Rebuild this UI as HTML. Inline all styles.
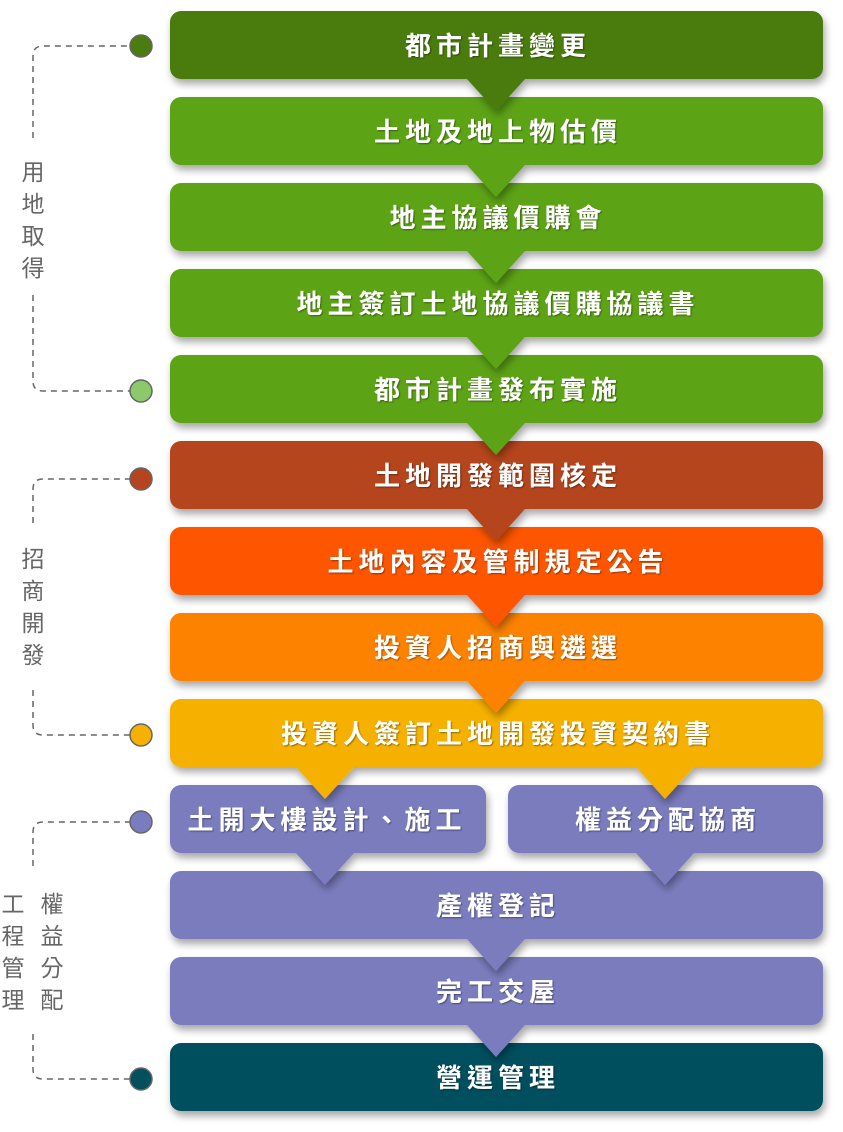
<!DOCTYPE html>
<html><head><meta charset="utf-8"><style>
html,body{margin:0;padding:0;background:#fff;}
svg{display:block;}
.t{font-family:"Liberation Sans","Noto Sans CJK TC",sans-serif;font-weight:bold;font-size:26px;fill:#fff;letter-spacing:5px;}
.l{font-family:"Liberation Sans","Noto Sans CJK TC",sans-serif;font-size:23px;fill:#666;}
</style></head><body>
<svg width="843" height="1132" viewBox="0 0 843 1132" xmlns="http://www.w3.org/2000/svg">
<defs>
<filter id="sh" x="-10%" y="-20%" width="120%" height="160%">
<feDropShadow dx="2" dy="5" stdDeviation="4" flood-color="#000" flood-opacity="0.35"/>
</filter>
<filter id="ts"><feDropShadow dx="1" dy="1" stdDeviation="0.8" flood-color="#000" flood-opacity="0.4"/></filter>
</defs>
<g fill="none" stroke="#666" stroke-width="1.5" stroke-dasharray="6,5">
<path d="M33 138 V56 Q33 46 43 46 H130"/>
<path d="M33 295 V381 Q33 391 43 391 H130"/>
<path d="M33 523 V489 Q33 479 43 479 H130"/>
<path d="M33 690 V725 Q33 735 43 735 H130"/>
<path d="M33 866 V832 Q33 822 43 822 H130"/>
<path d="M33 1034 V1069 Q33 1079 43 1079 H130"/>
</g>
<g stroke="#666" stroke-width="1.5">
<circle cx="141" cy="46" r="11" fill="#4a7c10"/>
<circle cx="141" cy="391" r="11" fill="#8cc96a"/>
<circle cx="141" cy="479" r="11" fill="#b5441f"/>
<circle cx="141" cy="735" r="11" fill="#f6b100"/>
<circle cx="141" cy="822" r="11" fill="#7b7bbf"/>
<circle cx="141" cy="1079" r="11" fill="#03505e"/>
</g>
<g class="l" text-anchor="middle">
<text x="33" y="180">用</text><text x="33" y="212">地</text><text x="33" y="244">取</text><text x="33" y="276">得</text>
<text x="33" y="567">招</text><text x="33" y="599">商</text><text x="33" y="631">開</text><text x="33" y="663">發</text>
<text x="13" y="912">工</text><text x="13" y="944">程</text><text x="13" y="976">管</text><text x="13" y="1008">理</text>
<text x="52" y="912">權</text><text x="52" y="944">益</text><text x="52" y="976">分</text><text x="52" y="1008">配</text>
</g>
<g filter="url(#sh)">
<rect x="170" y="1043" width="653" height="68" rx="11" fill="#03505e"/>
</g>
<g filter="url(#sh)" fill="#7a7bbd">
<rect x="170" y="957" width="653" height="68" rx="11"/>
<polygon points="466,1024 526,1024 496,1057"/>
</g>
<g filter="url(#sh)" fill="#7a7bbd">
<rect x="170" y="871" width="653" height="68" rx="11"/>
<polygon points="466,938 526,938 496,971"/>
</g>
<g filter="url(#sh)" fill="#7a7bbd">
<rect x="170" y="785" width="316" height="68" rx="11"/>
<polygon points="295,852 355,852 325,885"/>
<rect x="508" y="785" width="315" height="68" rx="11"/>
<polygon points="635,852 695,852 665,885"/>
</g>
<g filter="url(#sh)" fill="#f6b100">
<rect x="170" y="699" width="653" height="68" rx="11"/>
<polygon points="295,766 355,766 325,799"/>
<polygon points="635,766 695,766 665,799"/>
</g>
<g filter="url(#sh)" fill="#fd8200">
<rect x="170" y="613" width="653" height="68" rx="11"/>
<polygon points="466,680 526,680 496,713"/>
</g>
<g filter="url(#sh)" fill="#fd5500">
<rect x="170" y="527" width="653" height="68" rx="11"/>
<polygon points="466,594 526,594 496,627"/>
</g>
<g filter="url(#sh)" fill="#b5441f">
<rect x="170" y="441" width="653" height="68" rx="11"/>
<polygon points="466,508 526,508 496,541"/>
</g>
<g filter="url(#sh)" fill="#5da315">
<rect x="170" y="355" width="653" height="68" rx="11"/>
<polygon points="466,422 526,422 496,455"/>
</g>
<g filter="url(#sh)" fill="#5da315">
<rect x="170" y="269" width="653" height="68" rx="11"/>
<polygon points="466,336 526,336 496,369"/>
</g>
<g filter="url(#sh)" fill="#5da315">
<rect x="170" y="183" width="653" height="68" rx="11"/>
<polygon points="466,250 526,250 496,283"/>
</g>
<g filter="url(#sh)" fill="#5da315">
<rect x="170" y="97" width="653" height="68" rx="11"/>
<polygon points="466,164 526,164 496,197"/>
</g>
<g filter="url(#sh)" fill="#487b0e">
<rect x="170" y="11" width="653" height="68" rx="11"/>
<polygon points="466,78 526,78 496,111"/>
</g>
<g class="t" text-anchor="middle" filter="url(#ts)">
<text x="498" y="55">都市計畫變更</text>
<text x="498" y="141">土地及地上物估價</text>
<text x="498" y="227">地主協議價購會</text>
<text x="498" y="313">地主簽訂土地協議價購協議書</text>
<text x="498" y="399">都市計畫發布實施</text>
<text x="498" y="485">土地開發範圍核定</text>
<text x="498" y="571">土地內容及管制規定公告</text>
<text x="498" y="657">投資人招商與遴選</text>
<text x="498" y="743">投資人簽訂土地開發投資契約書</text>
<text x="327" y="829">土開大樓設計、施工</text>
<text x="668" y="829">權益分配協商</text>
<text x="498" y="915">產權登記</text>
<text x="498" y="1001">完工交屋</text>
<text x="498" y="1087">營運管理</text>
</g>
</svg>
</body></html>
